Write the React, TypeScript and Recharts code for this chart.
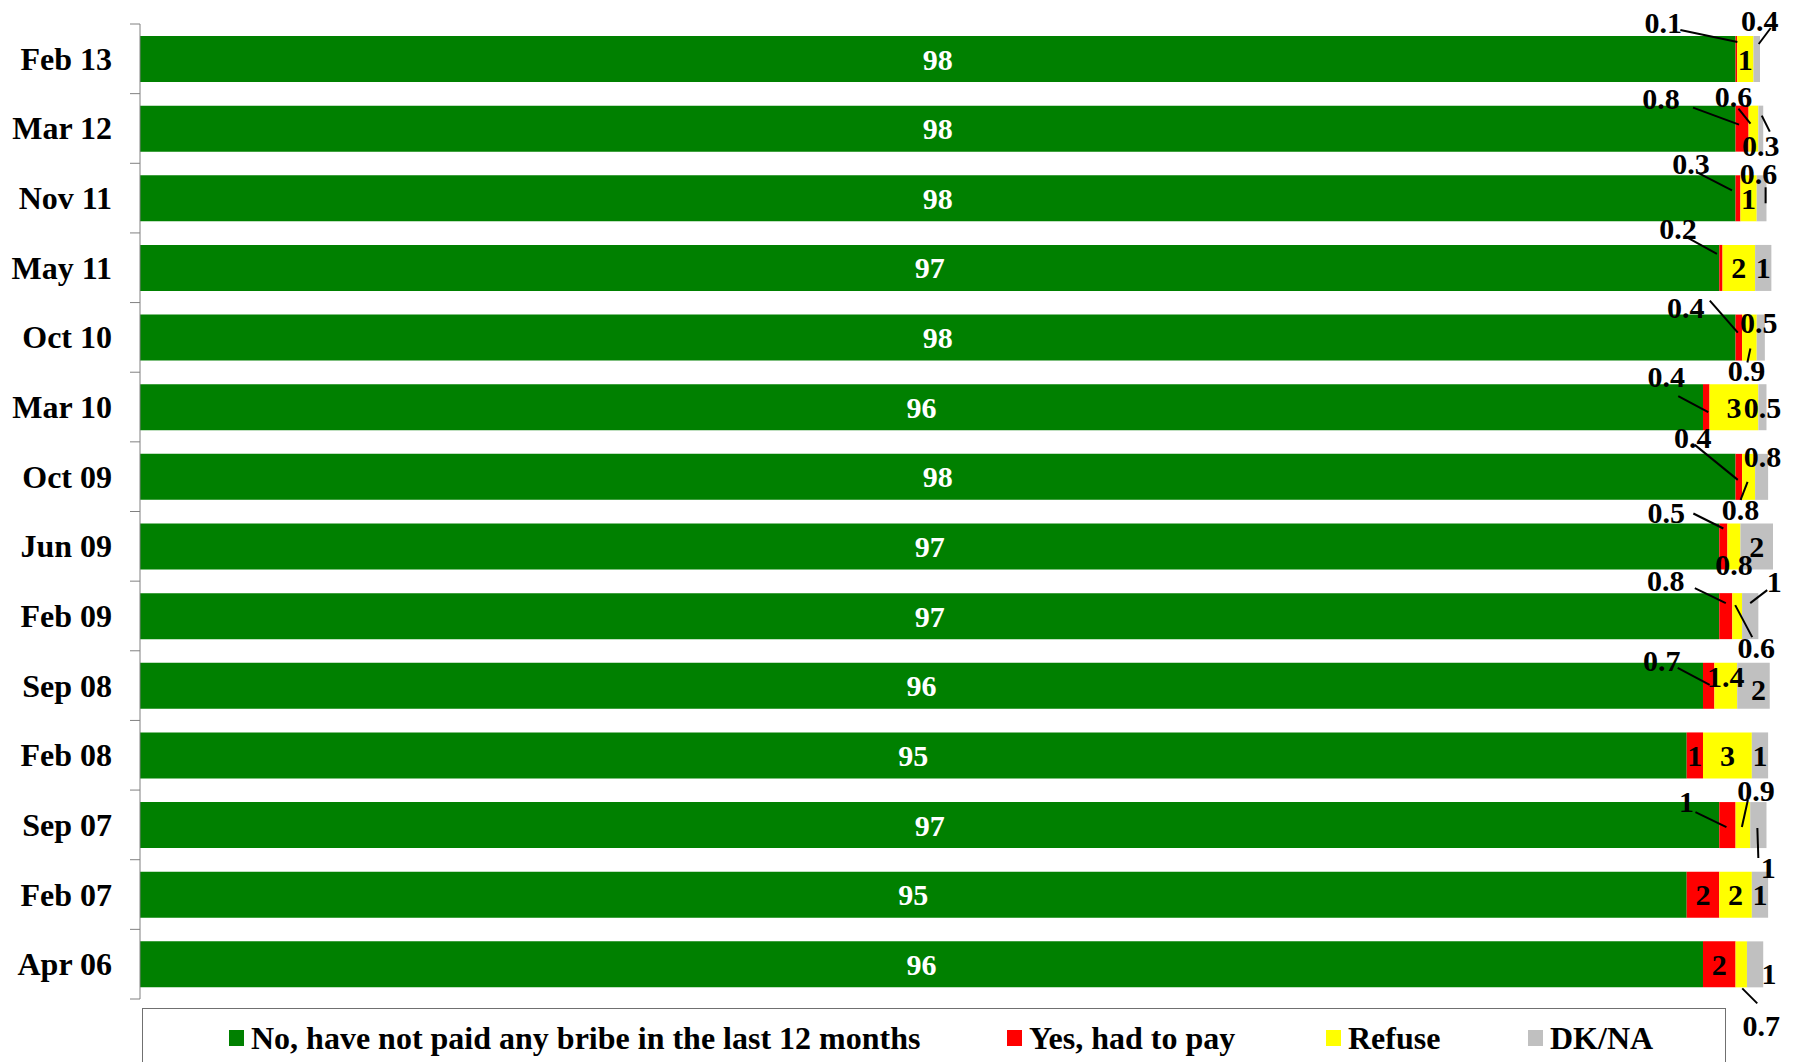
import React from 'react';
import { BarChart, Bar, XAxis, YAxis, LabelList, Legend } from 'recharts';

const PERIODS = [
    'Feb 13', 'Mar 12', 'Nov 11', 'May 11', 'Oct 10', 'Mar 10', 'Oct 09',
    'Jun 09', 'Feb 09', 'Sep 08', 'Feb 08', 'Sep 07', 'Feb 07', 'Apr 06',
];
const NOT_PAID = [98, 98, 98, 97, 98, 96, 98, 97, 97, 96, 95, 97, 95, 96];
const HAD_TO_PAY = [0.1, 0.8, 0.3, 0.2, 0.4, 0.4, 0.4, 0.5, 0.8, 0.7, 1, 1, 2, 2];
const REFUSE = [1, 0.6, 1, 2, 0.9, 3, 0.8, 0.8, 0.6, 1.4, 3, 0.9, 2, 0.7];
const DK_NA = [0.4, 0.3, 0.6, 1, 0.5, 0.5, 0.8, 2, 1, 2, 1, 1, 1, 1];

const SERIES = [
    { key: 'notPaid', name: 'No, have not paid any bribe in the last 12 months', color: '#008000', text: '#ffffff', legendX: 86 },
    { key: 'paid', name: 'Yes, had to pay', color: '#ff0000', text: '#000000', legendX: 864 },
    { key: 'refuse', name: 'Refuse', color: '#ffff00', text: '#000000', legendX: 1183 },
    { key: 'dkna', name: 'DK/NA', color: '#c0c0c0', text: '#000000', legendX: 1385 },
];

const data = PERIODS.map((period, i) => ({
    period,
    notPaid: NOT_PAID[i],
    paid: HAD_TO_PAY[i],
    refuse: REFUSE[i],
    dkna: DK_NA[i],
}));

// label offsets (from segment centre) for the small slices that sit outside the bar
type Placement = { dx: number; dy: number; line?: [number, number, number, number] };
const PLACEMENT: Record<string, Placement> = {
    'paid:0': { dx: -73, dy: -37, line: [-56, -29, 1, -17] },
    'dkna:0': { dx: 3, dy: -39, line: [14, -31, 2, -15] },
    'paid:1': { dx: -81, dy: -30, line: [-49, -21, -3, -4] },
    'refuse:1': { dx: -20, dy: -32, line: [-15, -20, -3, -5] },
    'dkna:1': { dx: 0, dy: 17, line: [1, -13, 9, 3] },
    'paid:2': { dx: -47, dy: -35, line: [-41, -26, -6, -8] },
    'dkna:2': { dx: -3, dy: -25, line: [4, -11, 4, 5] },
    'paid:3': { dx: -43, dy: -39, line: [-33, -30, -4, -14] },
    'paid:4': { dx: -53, dy: -30, line: [-29, -37, -1, -5] },
    'refuse:4': { dx: -3, dy: 33, line: [1, 11, -2, 25] },
    'dkna:4': { dx: -2, dy: -15 },
    'paid:5': { dx: -40, dy: -31, line: [-28, -11, 2, 5] },
    'paid:6': { dx: -46, dy: -39, line: [-44, -32, -1, 3] },
    'refuse:6': { dx: -8, dy: 33, line: [-1, 5, -8, 23] },
    'dkna:6': { dx: 1, dy: -20 },
    'paid:7': { dx: -57, dy: -34, line: [-30, -33, 0, -18] },
    'refuse:7': { dx: 0, dy: 18 },
    'paid:8': { dx: -60, dy: -36, line: [-31, -28, 0, -13] },
    'refuse:8': { dx: 19, dy: 31, line: [-2, -11, 15, 21] },
    'dkna:8': { dx: 24, dy: -35, line: [17, -26, 0, -13] },
    'paid:9': { dx: -47, dy: -25, line: [-31, -18, 1, -1] },
    'refuse:9': { dx: 0, dy: -9 },
    'dkna:9': { dx: 5, dy: 4 },
    'paid:11': { dx: -41, dy: -24, line: [-32, -13, -1, 2] },
    'refuse:11': { dx: 13, dy: -35, line: [5, -25, -1, 2] },
    'dkna:11': { dx: 10, dy: 42, line: [-1, 3, 0, 33] },
    'refuse:13': { dx: 20, dy: 61, line: [1, 24, 16, 39] },
    'dkna:13': { dx: 14, dy: 9 },
};

const FONT = "'Times New Roman', 'Liberation Serif', serif";
const WIDTH = 1795;
const HEIGHT = 1062;
const MARGIN = { top: 24, right: 22, bottom: 63, left: 0 };
const AXIS_X = 140;
const BAND = (HEIGHT - MARGIN.top - MARGIN.bottom) / PERIODS.length;

const PeriodTick = (props: any) => {
    const { x, y, payload, index } = props;
    const top = y - BAND / 2;
    return (
        <g>
            <line x1={AXIS_X - 10} x2={AXIS_X} y1={top} y2={top} stroke="#808080" />
            {index === PERIODS.length - 1 && (
                <line x1={AXIS_X - 10} x2={AXIS_X} y1={y + BAND / 2} y2={y + BAND / 2} stroke="#808080" />
            )}
            <text
                x={x}
                y={y}
                textAnchor="end"
                dominantBaseline="central"
                fontFamily={FONT}
                fontWeight="bold"
                fontSize={32}
                fill="#000"
            >
                {payload.value}
            </text>
        </g>
    );
};

const makeLabel = (key: string, color: string) => (props: any) => {
    const box = props.viewBox ?? props;
    const { x, y, width, height } = box;
    const { value, index } = props;
    const cx = x + width / 2;
    const cy = y + height / 2;
    const p = PLACEMENT[`${key}:${index}`];
    const lx = cx + (p ? p.dx : 0);
    const ly = cy + (p ? p.dy : 0);
    return (
        <g>
            {p && p.line && (
                <line
                    x1={cx + p.line[0]}
                    y1={cy + p.line[1]}
                    x2={cx + p.line[2]}
                    y2={cy + p.line[3]}
                    stroke="#000"
                    strokeWidth={2}
                />
            )}
            <text
                x={lx}
                y={ly}
                textAnchor="middle"
                dominantBaseline="central"
                fontFamily={FONT}
                fontWeight="bold"
                fontSize={30}
                fill={color}
            >
                {value}
            </text>
        </g>
    );
};

const LegendBox = () => (
    <div
        style={{
            position: 'relative',
            width: 1584,
            height: 80,
            border: '1.5px solid #707070',
            boxSizing: 'border-box',
            background: '#fff',
            fontFamily: FONT,
            fontWeight: 'bold',
            fontSize: 32,
        }}
    >
        {SERIES.map((s) => (
            <div
                key={s.key}
                style={{ position: 'absolute', left: s.legendX, top: 9, display: 'flex', alignItems: 'center', whiteSpace: 'nowrap' }}
            >
                <span style={{ display: 'inline-block', width: 15, height: 16, background: s.color, marginRight: 7 }} />
                <span style={{ lineHeight: '40px' }}>{s.name}</span>
            </div>
        ))}
    </div>
);

const App = () => {
    return (
        <div style={{ position: 'absolute', left: 0, top: 0 }}>
            <BarChart
                layout="vertical"
                width={WIDTH}
                height={HEIGHT}
                data={data}
                margin={MARGIN}
                barSize={46}
            >
                <XAxis type="number" domain={[0, 'dataMax']} hide />
                <YAxis
                    type="category"
                    dataKey="period"
                    width={AXIS_X}
                    interval={0}
                    axisLine={{ stroke: '#808080' }}
                    tickLine={false}
                    tickMargin={22}
                    tick={<PeriodTick />}
                />
                {SERIES.map((s) => (
                    <Bar key={s.key} dataKey={s.key} name={s.name} stackId="a" fill={s.color} isAnimationActive={false}>
                        <LabelList dataKey={s.key} content={makeLabel(s.key, s.text)} />
                    </Bar>
                ))}
                <Legend
                    layout="horizontal"
                    verticalAlign="middle"
                    align="center"
                    content={() => <LegendBox />}
                    wrapperStyle={{ left: 142, top: 1008, width: 1584, height: 80 }}
                />
            </BarChart>
        </div>
    );
};

export default App;
